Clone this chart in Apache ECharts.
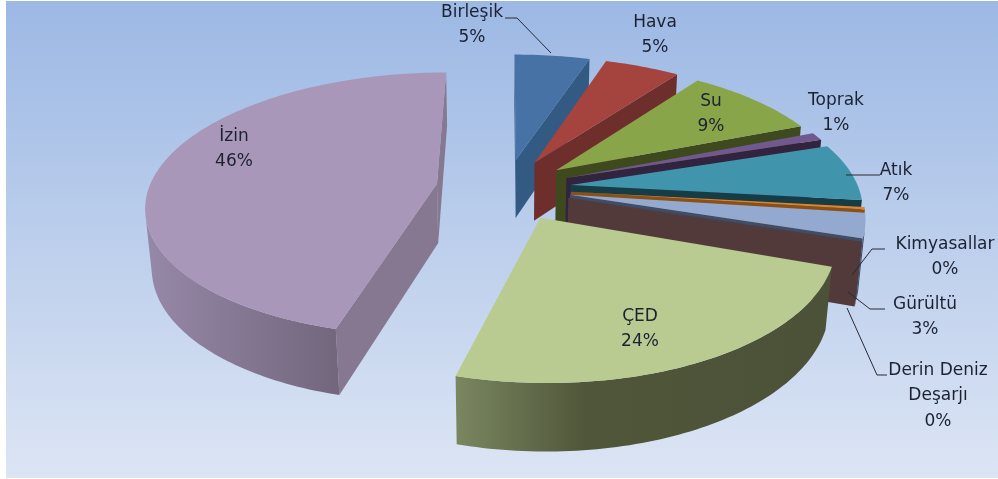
<!DOCTYPE html>
<html>
<head>
<meta charset="utf-8">
<title>Pie</title>
<style>
  html, body { margin: 0; padding: 0; background: #fff; }
  #main { width: 998px; height: 479px; }
</style>
<script src="https://cdn.jsdelivr.net/npm/echarts@6/dist/echarts.min.js"></script>
</head>
<body>
<div id="main"></div>
<script>
// values
var categories = ['Birleşik', 'Hava', 'Su', 'Toprak', 'Atık', 'Kimyasallar', 'Gürültü', 'Derin Deniz\nDeşarjı', 'ÇED', 'İzin'];
var values = [5, 5, 9, 1, 7, 0.3, 3, 0.3, 24, 46];

// look of each slice
var topColors = ['#4672a5', '#a5433f', '#89a54a', '#71588f', '#4094ac', '#e0842c', '#94a9d0', '#533a3a', '#b9cb91', '#a897b9'];
var wallColors = ['#325a82', '#6e2e2b', '#3e4a1e', '#32233f', '#163c46', '#8a5018', '#3d4d6a', '#533a3a', '#4c5238', '#857890'];
var explodes = [0.226, 0.226, 0.226, 0.226, 0.226, 0.226, 0.226, 0.226, 0.25, 0.243];
var widths = [1, 1, 1, 1, 1, 1, 1, 1, 0.975, 1];
var labelSpots = [[472, 25], [655, 35], [711, 114], [836, 113], [896, 183], [945, 257], [925, 317], [938, 396], [640, 329], [234, 149]];
var leaderLines = [
  [[505, 18], [517, 18], [551, 53]],
  [[846, 175], [880, 175]],
  [[885, 249], [872, 249], [852, 275]],
  [[885, 309], [870, 309], [848, 292]],
  [[887, 375], [877, 375], [847, 308]]
];

// fake 3d camera, fitted by eye
var cx = 506, cy = 188, radius = 288, camDist = 5.8, thick = 0.235;
var sinT = 0.45, cosT = Math.sqrt(1 - sinT * sinT);

function project(x, y, z) {
  var s = camDist / (camDist + z * cosT - y * sinT);
  return [cx + radius * s * x, cy - radius * s * (z * sinT + y * cosT)];
}
// negative when the face looks at the camera, the way the points are listed below
function area(pts) {
  var a = 0;
  for (var i = 0; i < pts.length; i++) {
    var p = pts[i], q = pts[(i + 1) % pts.length];
    a += p[0] * q[1] - q[0] * p[1];
  }
  return a / 2;
}

var total = values.reduce(function (a, b) { return a + b; }, 0);
var startAngles = [];
values.reduce(function (acc, v, i) { startAngles[i] = acc; return acc + v / total * Math.PI * 2; }, 0);

function poly(points, fill, z2) {
  return { type: 'polygon', shape: { points: points }, style: { fill: fill }, z2: z2, silent: true };
}

function sideGradient(i, x0, x1) {
  if (i === 8) {
    return { type: 'linear', x: x0, y: 0, x2: x1, y2: 0, global: true, colorStops: [
      { offset: 0, color: '#7a8660' }, { offset: 0.35, color: '#4f5639' }, { offset: 1, color: '#4c5238' }] };
  }
  if (i === 9) {
    return { type: 'linear', x: x0, y: 0, x2: x1, y2: 0, global: true, colorStops: [
      { offset: 0, color: '#9587a6' }, { offset: 1, color: '#72667d' }] };
  }
  return wallColors[i];
}

function renderSlice(params, api) {
  var i = params.dataIndex;
  var v = api.value(0);
  var a0 = startAngles[i], a1 = a0 + v / total * Math.PI * 2, mid = (a0 + a1) / 2;
  var ox = explodes[i] * Math.sin(mid), oz = explodes[i] * Math.cos(mid);
  var order = i === 9 ? 0 : i + 1;
  var n = Math.max(2, Math.ceil((a1 - a0) / 0.02));
  var topArc = [], lowArc = [];
  for (var k = 0; k <= n; k++) {
    var t = a0 + (a1 - a0) * k / n;
    topArc.push(project(ox + widths[i] * Math.sin(t), 0, oz + Math.cos(t)));
    lowArc.push(project(ox + widths[i] * Math.sin(t), -thick, oz + Math.cos(t)));
  }
  var apexTop = project(ox, 0, oz), apexLow = project(ox, -thick, oz);
  var children = [];

  // the two cut faces, only when they look at the camera
  var wallA = [apexTop, topArc[0], lowArc[0], apexLow];
  var wallB = [topArc[n], apexTop, apexLow, lowArc[n]];
  if (area(wallA) < 0) children.push(poly(wallA, wallColors[i], order * 3));
  if (area(wallB) < 0) children.push(poly(wallB, wallColors[i], order * 3));

  // rim, only the part that faces front
  var rimTop = [], rimLow = [];
  for (var j = 0; j < n; j++) {
    if (area([topArc[j], topArc[j + 1], lowArc[j + 1], lowArc[j]]) < 0) {
      if (!rimTop.length) { rimTop.push(topArc[j]); rimLow.push(lowArc[j]); }
      rimTop.push(topArc[j + 1]); rimLow.push(lowArc[j + 1]);
    }
  }
  if (rimTop.length) {
    var x0 = Math.min.apply(null, rimLow.map(function (p) { return p[0]; }));
    var x1 = Math.max.apply(null, rimLow.map(function (p) { return p[0]; }));
    children.push(poly(rimTop.concat(rimLow.slice().reverse()), sideGradient(i, x0, x1), order * 3 + 1));
  }

  // top face
  children.push(poly([apexTop].concat(topArc), topColors[i], order * 3 + 2));

  // label
  children.push({
    type: 'text', silent: true, z2: 200,
    style: {
      text: categories[i] + '\n' + Math.round(v / total * 100) + '%',
      x: labelSpots[i][0], y: labelSpots[i][1],
      align: 'center', verticalAlign: 'middle',
      font: '17px "DejaVu Sans"', lineHeight: 25.5, fill: '#1c2232'
    }
  });
  return { type: 'group', children: children };
}

var myChart = echarts.init(document.getElementById('main'), null, { renderer: 'canvas' });
myChart.setOption({
  animation: false,
  backgroundColor: '#fff',
  graphic: [{
    type: 'rect', z: -1, silent: true,
    shape: { x: 6, y: 1, width: 992, height: 477 },
    style: { fill: { type: 'linear', x: 0, y: 0, x2: 0, y2: 1, colorStops: [
      { offset: 0, color: '#9cb8e4' }, { offset: 1, color: '#dce5f4' }] } }
  }].concat(leaderLines.map(function (pts) {
    return { type: 'polyline', z: 10, silent: true, shape: { points: pts }, style: { stroke: '#2a2a30', lineWidth: 1, fill: null } };
  })),
  series: [{
    type: 'custom',
    coordinateSystem: 'none',
    renderItem: renderSlice,
    data: values.map(function (v) { return [v]; })
  }]
});
</script>
</body>
</html>
